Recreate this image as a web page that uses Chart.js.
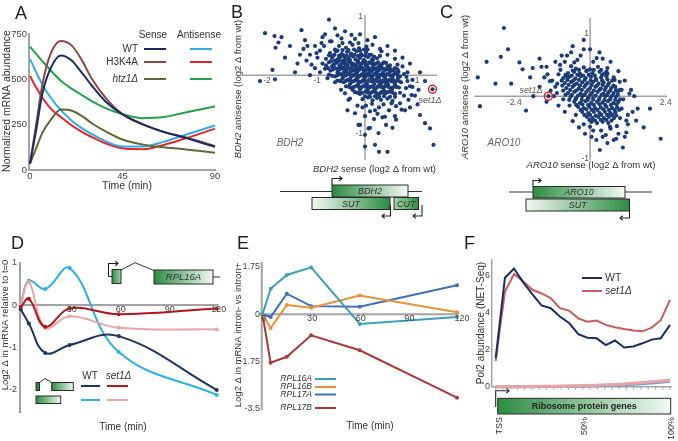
<!DOCTYPE html>
<html>
<head>
<meta charset="utf-8">
<script src="https://cdn.jsdelivr.net/npm/chart.js@4"></script>
<style>
  body { margin: 0; background: #fff; }
  #wrap { position: relative; width: 678px; height: 441px; }
  canvas { position: absolute; left: 0; top: 0; }
</style>
</head>
<body>
<div id="wrap">
  <canvas id="cA" width="678" height="441"></canvas>
  <canvas id="cB" width="678" height="441"></canvas>
  <canvas id="cC" width="678" height="441"></canvas>
  <canvas id="cD" width="678" height="441"></canvas>
  <canvas id="cE" width="678" height="441"></canvas>
  <canvas id="cF" width="678" height="441"></canvas>
</div>
<script>
// ---- data ----
// A: mRNA abundance after induction
const aTimes = [0, 3, 6, 10, 15, 20, 25, 30, 37, 45, 55, 65, 75, 90];
const aWTSense = [35, 220, 420, 560, 632, 607, 540, 466, 375, 307, 252, 210, 179, 128];
const aH3K4ASense = [35, 250, 470, 640, 712, 690, 610, 505, 395, 308, 250, 210, 182, 132];
const aHtz1Sense = [35, 120, 205, 275, 333, 328, 300, 258, 212, 168, 140, 125, 115, 95];
const aWTAnti = [612, 540, 470, 400, 330, 275, 232, 198, 158, 130, 130, 155, 192, 245];
const aH3K4AAnti = [518, 455, 400, 340, 292, 248, 212, 182, 146, 120, 115, 138, 172, 228];
const aHtz1Anti = [680, 640, 600, 550, 492, 450, 415, 380, 340, 308, 286, 292, 316, 350];
const aXTicks = [0, 45, 90];
const aYTicks = [0, 250, 500, 750];

// B: BDH2 sense vs antisense (log2 change from wt), one point per mutant
const bSet1 = [1.35, -0.24];
const bPoints = [
  [-2.0,0.72],[-1.81,0.67],[-1.67,0.65],[-1.73,0.56],[-1.79,0.47],[-1.27,0.77],[-0.72,0.95],[-1.85,0.09],
  [-2.1,-0.1],[-1.8,-0.07],[-1.23,0.45],[-1.17,0.25],[-1.07,0.18],[-0.87,0.55],[-0.97,0.38],[-0.67,0.58],
  [-0.47,0.63],[-0.27,0.69],[-0.13,0.55],[0.03,0.49],[0.33,0.41],[0.67,0.06],[0.83,-0.03],[0.9,-0.19],
  [1.07,-0.25],[1.35,-0.24],[1.2,-0.82],[1.3,-0.91],[1.37,-1.19],[1.1,-0.68],[0.73,-0.59],[0.53,-0.48],
  [0.27,-0.99],[0.2,-1.19],[0.28,-1.31],[0.45,-1.31],[0.0,-1.22],[-0.13,-0.85],[0.07,-0.91],[0.0,-1.02],
  [-0.2,-0.65],[-0.33,-0.42],[-0.4,-0.31],[0.4,-0.71],[0.87,-0.42],[0.93,-0.34],[0.6,-0.37],
  [-0.95,0.3],[-1.0,0.12],[-0.9,0.42],[-0.82,0.5],[-0.7,0.58],[-0.55,0.68],[-0.2,0.62],[0.15,0.52],
  [0.3,0.45],[0.45,0.35],[0.6,0.28],[0.75,0.15],[0.85,0.05],[0.95,-0.08],[0.82,-0.22],[0.78,-0.35],
  [0.7,-0.48],[-0.6,-0.12],[-0.48,-0.25],[-0.3,-0.4],[-0.15,-0.52],[-0.35,-0.6],[0.0,-0.7],[-0.1,-0.85],
  [0.1,-0.9],[0.55,-0.9],[0.9,-0.55],[1.0,-0.35],[-1.2,0.6],[-1.1,0.35],[-1.35,0.2],[-1.5,0.5],
  [-1.3,0.35],[-1.0,0.5],[-0.85,0.65],[-0.6,0.8],[-0.4,0.75],[-0.1,0.7],[0.2,0.65],[0.45,0.5],
  [0.6,0.42],[0.75,0.3],[0.9,0.2],[1.1,0.05],[1.2,-0.1],[0.95,-0.2],[1.05,-0.5],[0.8,-0.6],
  [0.6,-0.7],[0.42,-0.85],[0.2,-0.6],[-0.05,-0.55],[-0.25,-0.25],[-0.5,-0.1],[-0.75,-0.05],[-0.9,0.05],
  [-1.1,0.0],[-1.4,0.05],[-1.6,0.3],[-0.8,0.7],[0.05,0.6],[-1.15,0.5],[0.7,-0.3],[0.85,-0.1],[0.65,0.18],
  [-0.52,0.5],[-0.38,0.47],[-0.25,0.52],[-0.12,0.46],[-0.6,0.44],[-0.3,0.56],[0.05,0.44],[-0.45,0.55],
  [-0.55,0.42],[-0.45,0.43],[-0.33,0.43],[-0.22,0.44],[-0.1,0.42],[-0.02,0.44],
  [-0.7,0.38],[-0.58,0.41],[-0.47,0.36],[-0.36,0.4],[-0.28,0.37],[-0.17,0.41],[-0.08,0.36],[0.02,0.39],
  [0.12,0.35],[-0.64,0.33],[-0.41,0.31],
  [-0.72,0.34],[-0.61,0.35],[-0.52,0.33],[-0.44,0.35],[-0.37,0.33],[-0.29,0.34],[-0.21,0.35],[-0.14,0.33],
  [-0.06,0.34],[0.01,0.33],[0.09,0.35],[0.18,0.32],
  [-0.78,0.28],[-0.66,0.3],[-0.55,0.27],[-0.49,0.31],[-0.4,0.26],[-0.33,0.29],[-0.24,0.32],[-0.19,0.27],
  [-0.1,0.3],[-0.03,0.26],[0.06,0.31],[0.14,0.27],[0.24,0.29],[0.3,0.33],
  [-0.6,0.25],[-0.45,0.24],[-0.3,0.26],[-0.14,0.25],[0.0,0.24],[0.16,0.26],[-0.52,0.25],
  [-0.85,0.2],[-0.72,0.22],[-0.63,0.18],[-0.56,0.22],[-0.47,0.19],[-0.42,0.23],[-0.35,0.17],[-0.29,0.21],
  [-0.22,0.18],[-0.15,0.22],[-0.08,0.19],[-0.02,0.23],[0.04,0.17],[0.11,0.21],[0.18,0.18],[0.26,0.22],
  [0.34,0.19],[0.42,0.21],[0.5,0.17],
  [-0.78,0.17],[-0.68,0.24],[-0.6,0.2],[-0.51,0.17],[-0.44,0.21],[-0.38,0.2],[-0.32,0.24],[-0.25,0.2],
  [-0.18,0.16],[-0.11,0.2],[-0.05,0.21],[0.01,0.19],[0.08,0.22],[0.15,0.2],[0.22,0.2],[0.3,0.17],[0.38,0.22],
  [-0.66,0.15],[-0.5,0.14],[-0.39,0.16],[-0.26,0.15],[-0.11,0.14],[0.02,0.16],[0.15,0.14],[0.29,0.16],[0.45,0.15],
  [-0.8,0.11],[-0.69,0.08],[-0.6,0.12],[-0.52,0.09],[-0.45,0.13],[-0.38,0.07],[-0.31,0.11],[-0.25,0.08],
  [-0.18,0.12],[-0.12,0.09],[-0.06,0.13],[0.0,0.08],[0.07,0.12],[0.13,0.07],[0.2,0.11],[0.27,0.08],
  [0.33,0.13],[0.4,0.09],[0.48,0.12],[0.56,0.08],[0.65,0.1],
  [-0.74,0.12],[-0.64,0.1],[-0.56,0.11],[-0.48,0.11],[-0.41,0.1],[-0.34,0.12],[-0.28,0.1],[-0.21,0.09],
  [-0.15,0.1],[-0.09,0.11],[-0.03,0.1],[0.04,0.1],[0.1,0.09],[0.17,0.1],[0.24,0.12],[0.3,0.1],[0.37,0.11],
  [0.44,0.1],[0.52,0.1],[0.6,0.12],
  [-0.55,0.05],[-0.43,0.04],[-0.29,0.06],[-0.16,0.05],[-0.03,0.04],[0.1,0.06],[0.23,0.05],[0.36,0.04],[0.5,0.06],[0.63,0.05],
  [-0.72,0.01],[-0.6,-0.02],[-0.5,0.02],[-0.41,-0.01],[-0.34,0.03],[-0.27,-0.02],[-0.2,0.02],[-0.13,-0.03],
  [-0.07,0.01],[0.01,-0.02],[0.06,0.03],[0.12,-0.01],[0.19,0.02],[0.25,-0.03],[0.31,0.01],[0.38,-0.02],
  [0.44,0.02],[0.52,-0.01],[0.6,0.03],[0.7,-0.02],[0.78,0.02],
  [-0.66,-0.01],[-0.55,0.0],[-0.46,0.01],[-0.38,0.0],[-0.3,0.01],[-0.23,0.0],[-0.16,0.01],[-0.1,-0.01],
  [-0.04,0.0],[0.03,0.01],[0.09,0.0],[0.16,0.0],[0.22,0.01],[0.28,0.0],[0.35,0.01],[0.41,0.0],[0.48,0.01],
  [0.56,0.0],[0.65,0.01],
  [-0.45,-0.05],[-0.3,-0.06],[-0.16,-0.04],[-0.02,-0.06],[0.14,-0.05],[0.28,-0.04],[0.41,-0.06],[0.55,-0.05],[0.66,-0.04],
  [-0.55,-0.09],[-0.43,-0.12],[-0.35,-0.08],[-0.26,-0.11],[-0.18,-0.07],[-0.11,-0.12],[-0.04,-0.09],[0.03,-0.13],
  [0.09,-0.08],[0.16,-0.11],[0.22,-0.07],[0.29,-0.12],[0.35,-0.09],[0.42,-0.13],[0.49,-0.08],[0.56,-0.11],
  [0.64,-0.09],[0.72,-0.12],
  [-0.49,-0.1],[-0.39,-0.1],[-0.3,-0.09],[-0.22,-0.1],[-0.14,-0.1],[-0.07,-0.11],[0.0,-0.1],[0.06,-0.1],
  [0.12,-0.1],[0.19,-0.09],[0.25,-0.1],[0.32,-0.1],[0.38,-0.11],[0.45,-0.1],[0.52,-0.1],[0.6,-0.1],[0.68,-0.1],
  [-0.3,-0.15],[-0.13,-0.14],[0.04,-0.16],[0.19,-0.15],[0.32,-0.14],[0.46,-0.16],[0.6,-0.15],
  [-0.38,-0.19],[-0.27,-0.22],[-0.17,-0.18],[-0.08,-0.21],[0.0,-0.17],[0.07,-0.22],[0.14,-0.19],[0.21,-0.23],
  [0.28,-0.18],[0.36,-0.21],[0.43,-0.17],[0.51,-0.22],[0.59,-0.19],[0.68,-0.21],
  [-0.32,-0.2],[-0.22,-0.2],[-0.12,-0.2],[-0.04,-0.19],[0.03,-0.2],[0.1,-0.2],[0.17,-0.21],[0.25,-0.2],
  [0.32,-0.2],[0.4,-0.19],[0.47,-0.2],[0.55,-0.21],[0.63,-0.2],
  [-0.1,-0.25],[0.05,-0.26],[0.2,-0.24],[0.38,-0.26],[0.54,-0.25],
  [-0.2,-0.29],[-0.1,-0.32],[0.02,-0.28],[0.1,-0.31],[0.18,-0.27],[0.26,-0.33],[0.33,-0.29],[0.41,-0.31],
  [0.5,-0.28],[0.6,-0.32],
  [-0.15,-0.3],[-0.05,-0.3],[0.06,-0.3],[0.14,-0.29],[0.22,-0.3],[0.3,-0.31],[0.37,-0.3],[0.45,-0.29],[0.55,-0.3],
  [0.0,-0.36],[0.1,-0.37],[0.2,-0.36],[0.28,-0.37],[0.38,-0.36],[0.5,-0.37],
  [-0.05,-0.41],[0.06,-0.38],[0.15,-0.43],[0.24,-0.39],[0.32,-0.42],[0.45,-0.4],[0.55,-0.44],
  [0.02,-0.52],[0.14,-0.49],[0.28,-0.55],[0.37,-0.5],[0.62,-0.53],
  [0.1,-0.62],[0.25,-0.66],[0.48,-0.6],[0.18,-0.75],[0.35,-0.72],[0.62,-0.76]
];
const bXTicks = [-2, -1, 0, 1];
const bYTicks = [1, -1];

// C: ARO10 sense vs antisense
const cSet1 = [-1.32, 0.0];
const cPoints = [
  [-2.73,1.09],[-2.83,0.63],[-3.28,0.55],[-3.56,0.3],[-3.49,-0.16],[-2.24,0.54],[-2.14,0.43],[-1.82,0.45],
  [-2.03,-0.23],[-1.54,0.47],[-1.38,0.47],[-1.35,0.35],[-1.27,0.24],[-1.25,0.09],[-1.38,-0.09],[-1.32,0.0],
  [-0.73,0.65],[-0.5,0.54],[-0.94,0.42],[-0.73,0.31],[-1.04,0.2],[-0.16,-0.6],[0.31,-0.86],[0.83,-0.68],
  [1.04,-0.82],[1.15,-0.58],[1.51,-0.2],[1.46,-0.39],[2.24,-0.68],[0.94,0.23],[1.25,0.04],[0.78,0.26],
  [0.52,0.39],[0.21,0.61],[0.83,-0.31],[1.15,-0.39],[0.63,-0.49],[0.0,-0.49],
  [-1.0,0.35],[-1.1,0.15],[-0.95,0.5],[-0.8,0.55],[-0.4,0.58],[0.1,0.55],[0.55,0.45],[0.75,0.3],
  [1.0,0.1],[1.05,-0.05],[1.0,-0.2],[0.95,-0.35],[0.85,-0.48],[0.65,-0.52],[0.35,-0.55],[0.1,-0.55],
  [-0.2,-0.45],[-0.45,-0.3],[-0.65,-0.15],[-0.85,-0.05],[-1.15,0.0],[-1.2,0.25],[0.5,-0.62],[0.75,-0.7],
  [0.2,-0.7],[1.2,-0.45],[1.3,0.1],[-0.6,0.7],[0.3,0.7],[-0.2,0.75],
  [-1.6,0.6],[-1.9,0.3],[-1.6,0.15],[-1.45,0.3],[-1.1,0.55],[-0.9,0.65],[-0.55,0.8],[-0.3,0.65],
  [0.4,0.6],[0.65,0.55],[0.9,0.4],[1.1,0.25],[1.4,0.0],[1.35,-0.25],[1.2,-0.3],[1.1,-0.65],
  [0.9,-0.6],[0.55,-0.75],[0.4,-0.65],[0.05,-0.65],[-0.35,-0.5],[-0.55,-0.4],[-0.8,-0.25],[-1.0,-0.15],
  [-1.05,0.05],[-0.2,0.9],[0.0,0.75],[1.7,-0.5],[1.9,-0.2],[-2.5,0.2],[-1.8,0.0],[-2.6,0.75],[-3.0,0.2],
  [-0.45,0.44],[-0.2,0.46],[0.0,0.43],[0.25,0.47],[-0.6,0.48],
  [-0.55,0.41],[-0.35,0.42],[-0.1,0.41],[0.12,0.42],[0.35,0.42],
  [-0.7,0.37],[-0.5,0.39],[-0.32,0.36],[-0.12,0.4],[0.08,0.37],[0.3,0.39],[0.45,0.36],
  [-0.78,0.34],[-0.58,0.33],[-0.4,0.34],[-0.22,0.33],[-0.04,0.34],[0.15,0.33],[0.38,0.34],[0.55,0.36],
  [-0.85,0.29],[-0.66,0.31],[-0.47,0.28],[-0.3,0.32],[-0.14,0.29],[0.03,0.31],[0.18,0.28],[0.35,0.3],[0.52,0.32],
  [-0.9,0.25],[-0.72,0.26],[-0.53,0.25],[-0.35,0.26],[-0.17,0.26],[0.02,0.25],[0.2,0.26],[0.38,0.25],[0.55,0.27],[0.7,0.25],
  [-0.8,0.21],[-0.6,0.23],[-0.42,0.2],[-0.25,0.22],[-0.08,0.21],[0.1,0.23],[0.27,0.2],[0.43,0.22],[0.6,0.21],
  [-0.88,0.17],[-0.68,0.18],[-0.5,0.18],[-0.32,0.17],[-0.14,0.18],[0.05,0.18],[0.22,0.17],[0.4,0.18],[0.57,0.18],[0.74,0.17],
  [-0.75,0.13],[-0.55,0.15],[-0.36,0.12],[-0.18,0.15],[0.0,0.13],[0.17,0.15],[0.34,0.12],[0.5,0.14],[0.67,0.13],[0.8,0.15],
  [-0.85,0.09],[-0.63,0.1],[-0.44,0.09],[-0.26,0.1],[-0.06,0.1],[0.12,0.09],[0.3,0.1],[0.47,0.1],[0.64,0.09],[0.82,0.1],[0.95,0.1],
  [-0.7,0.05],[-0.5,0.07],[-0.3,0.04],[-0.12,0.07],[0.06,0.05],[0.24,0.07],[0.42,0.04],[0.58,0.06],[0.75,0.05],[0.88,0.07],
  [-0.78,0.02],[-0.58,0.02],[-0.38,0.01],[-0.18,0.02],[0.0,0.02],[0.18,0.01],[0.36,0.02],[0.54,0.02],[0.7,0.01],[0.88,0.02],
  [-0.62,-0.01],[-0.44,-0.03],[-0.25,0.0],[-0.06,-0.02],[0.12,-0.01],[0.3,-0.03],[0.48,0.0],[0.65,-0.02],[0.82,-0.01],
  [-0.66,-0.06],[-0.46,-0.05],[-0.26,-0.06],[-0.08,-0.06],[0.1,-0.05],[0.28,-0.06],[0.46,-0.06],[0.64,-0.05],[0.8,-0.06],[0.95,-0.05],
  [-0.5,-0.09],[-0.32,-0.11],[-0.14,-0.08],[0.04,-0.11],[0.22,-0.09],[0.4,-0.1],[0.57,-0.08],[0.74,-0.11],[0.9,-0.09],
  [-0.44,-0.14],[-0.24,-0.13],[-0.06,-0.14],[0.12,-0.14],[0.3,-0.13],[0.48,-0.14],[0.66,-0.14],[0.84,-0.13],
  [-0.38,-0.17],[-0.2,-0.19],[-0.02,-0.17],[0.16,-0.19],[0.34,-0.18],[0.52,-0.17],[0.7,-0.19],[0.86,-0.18],
  [-0.3,-0.22],[-0.12,-0.21],[0.06,-0.22],[0.24,-0.22],[0.42,-0.21],[0.6,-0.22],[0.78,-0.22],[0.92,-0.22],
  [-0.25,-0.25],[-0.06,-0.27],[0.12,-0.25],[0.3,-0.27],[0.47,-0.25],[0.64,-0.27],[0.8,-0.26],
  [-0.18,-0.3],[0.0,-0.3],[0.18,-0.31],[0.36,-0.3],[0.54,-0.3],[0.7,-0.3],
  [-0.1,-0.33],[0.08,-0.35],[0.26,-0.33],[0.44,-0.35],[0.6,-0.33],[0.76,-0.35],
  [-0.02,-0.38],[0.16,-0.39],[0.34,-0.38],[0.52,-0.38],[0.68,-0.39],
  [0.05,-0.41],[0.22,-0.43],[0.4,-0.41],[0.58,-0.43]
];
const cXTicks = [-2.4, 2.4];
const cYTicks = [1, -1];

// D: RPL16A mRNA relative to t=0
const dTimes = [0, 5, 15, 30, 60, 120];
const dWTSense = [-0.1, -0.44, -1.14, -0.95, -0.74, -2.02];
const dWTAnti = [0, 0.58, 0.38, 0.88, -1.12, -2.14];
const dSet1Sense = [-0.05, 0.15, -0.52, -0.08, -0.22, -0.08];
const dSet1Anti = [0.02, 0.55, -0.54, -0.27, -0.54, -0.58];
const dXTicks = [30, 60, 90, 120];
const dYTicks = [1, 0, -1, -2];

// E: intron- vs intron+ mRNA
const eTimes = [0, 5, 15, 30, 60, 120];
const eRPL16A = [0, 0.94, 1.45, 1.73, -0.36, -0.1];
const eRPL16B = [0, -0.51, 0.34, 0.24, 0.69, 0.07];
const eRPL17A = [0, -0.1, 0.76, 0.3, 0.28, 1.07];
const eRPL17B = [0, -1.79, -1.57, -0.78, -1.33, -3.08];
const eXTicks = [0, 30, 60, 90, 120];
const eYTicks = [1.75, 0, -1.75, -3.5];

// F: Pol2 NET-seq over ribosome protein genes (% of gene length)
const fPos = [0, 5.3, 10.5, 15.8, 21.1, 26.3, 31.6, 36.8, 42.1, 47.4, 52.6, 57.9, 63.2, 68.4, 73.7, 78.9, 84.2, 89.5, 94.7, 100];
const fWT = [1.55, 5.9, 6.4, 5.65, 5.0, 4.4, 4.25, 3.8, 3.45, 2.85, 2.65, 2.62, 2.25, 2.5, 2.12, 2.18, 2.35, 2.55, 2.62, 3.35];
const fSet1 = [1.4, 5.15, 6.1, 5.7, 5.25, 5.05, 4.8, 4.25, 4.12, 3.7, 3.52, 3.58, 3.35, 3.22, 3.12, 3.05, 3.0, 3.2, 3.6, 4.7];
const fWTAnti = [0, 0, 0, 0, 0, 0.01, 0.01, 0.02, 0.02, 0.03, 0.04, 0.05, 0.06, 0.08, 0.1, 0.13, 0.16, 0.2, 0.24, 0.3];
const fSet1Anti = [0, 0, 0, 0.01, 0.01, 0.02, 0.02, 0.03, 0.04, 0.05, 0.06, 0.08, 0.1, 0.12, 0.15, 0.19, 0.23, 0.27, 0.31, 0.35];
const fYTicks = [0, 2, 4, 6];
const fXLabels = [['TSS', 0], ['50%', 50], ['100%', 100]];

// ---- drawing helpers ----
const W = 678, H = 441;
const FONT = '"Liberation Sans", Arial, Helvetica, sans-serif';
const AXIS = '#a3a3a3';
const NAVY = '#1b2c5e';

function txt(ctx, s, x, y, o) {
  o = o || {};
  ctx.save();
  ctx.translate(x, y);
  if (o.rot) ctx.rotate(o.rot);
  const parts = Array.isArray(s) ? s : [[String(s), o.italic]];
  const fonts = parts.map(p => (p[1] ? 'italic ' : '') + (o.bold ? 'bold ' : '') + (o.size || 10) + 'px ' + FONT);
  let w = 0;
  parts.forEach((p, i) => { ctx.font = fonts[i]; w += ctx.measureText(p[0]).width; });
  let cx = o.align === 'right' ? -w : o.align === 'left' ? 0 : -w / 2;
  ctx.fillStyle = o.color || '#333';
  ctx.textBaseline = 'middle';
  ctx.textAlign = 'left';
  parts.forEach((p, i) => { ctx.font = fonts[i]; ctx.fillText(p[0], cx, 0); cx += ctx.measureText(p[0]).width; });
  ctx.restore();
}

function line(ctx, pts, color, w) {
  ctx.save();
  ctx.strokeStyle = color;
  ctx.lineWidth = w || 1;
  ctx.beginPath();
  pts.forEach((p, i) => i ? ctx.lineTo(p[0], p[1]) : ctx.moveTo(p[0], p[1]));
  ctx.stroke();
  ctx.restore();
}

function arrow(ctx, pts) {
  line(ctx, pts, '#222', 1.1);
  const a = pts[pts.length - 2], b = pts[pts.length - 1];
  const ang = Math.atan2(b[1] - a[1], b[0] - a[0]);
  const L = 3.5;
  line(ctx, [[b[0] - L * Math.cos(ang - 0.7), b[1] - L * Math.sin(ang - 0.7)], b,
             [b[0] - L * Math.cos(ang + 0.7), b[1] - L * Math.sin(ang + 0.7)]], '#222', 1.1);
}

function gbox(ctx, x0, y0, x1, y1, c0, c1, label, o) {
  const g = ctx.createLinearGradient(x0, 0, x1, 0);
  g.addColorStop(0, c0);
  g.addColorStop(1, c1);
  ctx.save();
  ctx.fillStyle = g;
  ctx.fillRect(x0, y0, x1 - x0, y1 - y0);
  ctx.strokeStyle = '#2a2a2a';
  ctx.lineWidth = 1;
  ctx.strokeRect(x0, y0, x1 - x0, y1 - y0);
  ctx.restore();
  if (label) txt(ctx, label, (x0 + x1) / 2, (y0 + y1) / 2 + 0.5, Object.assign({ size: 9, italic: true, color: '#333' }, o));
}
const GD = '#2c8c42', GL = '#f3f9f3';

function series(xs, ys, color, extra) {
  return Object.assign({
    data: xs.map((x, i) => ({ x: x, y: ys[i] })),
    borderColor: color, backgroundColor: color,
    borderWidth: 2, pointRadius: 0, tension: 0, clip: false
  }, extra || {});
}

function makeChart(id, area, xr, yr, datasets, under, over) {
  return new Chart(document.getElementById(id), {
    type: 'line',
    data: { datasets: datasets },
    options: {
      responsive: false, animation: false, events: [],
      layout: { padding: { left: area[0], top: area[1], right: W - area[2], bottom: H - area[3] } },
      plugins: { legend: { display: false }, tooltip: { enabled: false } },
      scales: {
        x: { type: 'linear', display: false, min: xr[0], max: xr[1] },
        y: { type: 'linear', display: false, min: yr[0], max: yr[1] }
      }
    },
    plugins: [{
      id: 'deco',
      beforeDatasetsDraw(c) {
        if (under) under(c.ctx, v => c.scales.x.getPixelForValue(v), v => c.scales.y.getPixelForValue(v));
      },
      afterDraw(c) {
        if (over) over(c.ctx, v => c.scales.x.getPixelForValue(v), v => c.scales.y.getPixelForValue(v));
      }
    }]
  });
}

const UP = -Math.PI / 2;

// ---- A ----
makeChart('cA', [30, 34, 215, 170], [0, 90], [0, 750], [
  series(aTimes, aWTSense, NAVY, { cubicInterpolationMode: 'monotone' }),
  series(aTimes, aH3K4ASense, '#8c4747', { cubicInterpolationMode: 'monotone' }),
  series(aTimes, aHtz1Sense, '#5a6b33', { cubicInterpolationMode: 'monotone' }),
  series(aTimes, aWTAnti, '#2eaee4', { cubicInterpolationMode: 'monotone' }),
  series(aTimes, aH3K4AAnti, '#e3262b', { cubicInterpolationMode: 'monotone' }),
  series(aTimes, aHtz1Anti, '#21a24b', { cubicInterpolationMode: 'monotone' })
], (ctx, X, Y) => {
  line(ctx, [[X(0) - 1, 33], [X(0) - 1, Y(0)], [X(90) + 1, Y(0)]], AXIS, 2);
}, (ctx, X, Y) => {
  txt(ctx, 'A', 15, 14, { size: 18, align: 'left', color: '#222' });
  aYTicks.forEach(v => txt(ctx, v, X(0) - 3, Y(v), { align: 'right', size: 9.5, color: '#444' }));
  aXTicks.forEach(v => txt(ctx, v, X(v), Y(0) + 6, { size: 9.5, color: '#444' }));
  txt(ctx, 'Time (min)', 127, 186, { size: 10.5 });
  txt(ctx, 'Normalized mRNA abundance', 7, 101, { size: 10.5, rot: UP });
  txt(ctx, 'Sense', 153, 35, { size: 10 });
  txt(ctx, 'Antisense', 199, 35, { size: 10 });
  const rows = [['WT', 49, NAVY, '#2eaee4', false], ['H3K4A', 62, '#8c4747', '#e3262b', false], ['htz1Δ', 79, '#5a6b33', '#21a24b', true]];
  rows.forEach(r => {
    txt(ctx, r[0], 138, r[1], { size: 10, align: 'right', italic: r[4] });
    line(ctx, [[144, r[1]], [166, r[1]]], r[2], 2);
    line(ctx, [[190, r[1]], [212, r[1]]], r[3], 2);
  });
});

// ---- B ----
makeChart('cB', [243, 15, 437, 160], [-2.44, 1.44], [-1.45, 1.03], [
  { type: 'scatter', data: bPoints.map(p => ({ x: p[0], y: p[1] })), backgroundColor: '#1c3b7a', borderWidth: 0, pointRadius: 2.1, clip: false }
], (ctx, X, Y) => {
  line(ctx, [[X(-2.44), Y(0)], [X(1.44), Y(0)]], AXIS, 1.5);
  line(ctx, [[X(0), Y(1.03)], [X(0), Y(-1.45)]], AXIS, 1.5);
}, (ctx, X, Y) => {
  txt(ctx, 'B', 231, 13, { size: 18, align: 'left', color: '#222' });
  bXTicks.forEach(v => txt(ctx, v, X(v) + (v === 0 ? 3 : 2), Y(0) + 5, { size: 8.5, color: '#555' }));
  bYTicks.forEach(v => txt(ctx, v, X(0) - 2, Y(v), { size: 8.5, color: '#555', align: 'right' }));
  ctx.save();
  ctx.strokeStyle = '#e02020'; ctx.lineWidth = 1.5;
  ctx.beginPath(); ctx.arc(X(bSet1[0]), Y(bSet1[1]), 4, 0, 2 * Math.PI); ctx.stroke();
  ctx.restore();
  txt(ctx, 'set1Δ', 430, 100, { size: 9, italic: true, color: '#555' });
  txt(ctx, 'BDH2', 290, 143, { size: 10, italic: true, color: '#666' });
  txt(ctx, [['BDH2', true], [' antisense (log2 Δ from wt)', false]], 238, 89, { size: 9.5, rot: UP });
  txt(ctx, [['BDH2', true], [' sense (log2 Δ from wt)', false]], 374.5, 169.5, { size: 9.5 });
  // gene diagram
  line(ctx, [[280, 191.5], [422, 191.5]], '#333', 1);
  gbox(ctx, 332, 185, 408, 197, GD, GL, 'BDH2');
  gbox(ctx, 312, 197.5, 390, 209.5, GL, GD, 'SUT');
  gbox(ctx, 394, 197.5, 418.5, 209.5, '#a8d6ae', GD, 'CUT');
  arrow(ctx, [[332, 185], [332, 178.5], [342, 178.5]]);
  arrow(ctx, [[390.5, 205], [390.5, 216], [382, 216]]);
  arrow(ctx, [[422, 205], [422, 216], [413, 216]]);
});

// ---- C ----
makeChart('cC', [474, 18, 667, 160], [-3.68, 2.44], [-1.02, 1.25], [
  { type: 'scatter', data: cPoints.map(p => ({ x: p[0], y: p[1] })), backgroundColor: '#1c3b7a', borderWidth: 0, pointRadius: 2.1, clip: false }
], (ctx, X, Y) => {
  line(ctx, [[X(-3.68), Y(0)], [X(2.44), Y(0)]], AXIS, 1.5);
  line(ctx, [[X(0), Y(1.25)], [X(0), Y(-1.02)]], AXIS, 1.5);
}, (ctx, X, Y) => {
  txt(ctx, 'C', 440, 13, { size: 18, align: 'left', color: '#222' });
  cXTicks.forEach(v => txt(ctx, v, X(v), Y(0) + 6, { size: 8.5, color: '#555' }));
  cYTicks.forEach(v => txt(ctx, v, X(0) - 1, Y(v), { size: 8.5, color: '#555', align: 'right' }));
  txt(ctx, '0', X(0) - 2, Y(0) - 3, { size: 8.5, color: '#555' });
  txt(ctx, '0', X(0) + 3, Y(0) + 3, { size: 8.5, color: '#555' });
  ctx.save();
  ctx.strokeStyle = '#e02020'; ctx.lineWidth = 1.5;
  ctx.beginPath(); ctx.arc(X(cSet1[0]), Y(cSet1[1]), 4, 0, 2 * Math.PI); ctx.stroke();
  ctx.restore();
  txt(ctx, 'set1Δ', 531, 90, { size: 9, italic: true, color: '#555' });
  txt(ctx, 'ARO10', 504, 143, { size: 10, italic: true, color: '#666' });
  txt(ctx, [['ARO10', true], [' antisense (log2 Δ from wt)', false]], 465, 87, { size: 9.5, rot: UP });
  txt(ctx, [['ARO10', true], [' sense (log2 Δ from wt)', false]], 591, 165, { size: 9.5 });
  line(ctx, [[509, 192], [652, 192]], '#333', 1);
  gbox(ctx, 533, 186.5, 625, 198, GD, GL, 'ARO10');
  gbox(ctx, 526, 199, 629.5, 211, GL, GD, 'SUT');
  arrow(ctx, [[533, 186.5], [533, 180.5], [541, 180.5]]);
  arrow(ctx, [[629.5, 206], [629.5, 218], [620, 218]]);
});

// ---- D ----
const dOpt = () => ({ tension: 0.4, pointRadius: 2, pointBorderWidth: 0 });
makeChart('cD', [20.7, 263, 216.7, 413], [0, 120], [-2.57, 1.0], [
  series(dTimes, dSet1Sense, '#b5161b', dOpt()),
  series(dTimes, dSet1Anti, '#e8a6a6', dOpt()),
  series(dTimes, dWTSense, '#1f3560', dOpt()),
  series(dTimes, dWTAnti, '#2cb0e8', dOpt())
], (ctx, X, Y) => {
  line(ctx, [[20, 262], [20, 413]], AXIS, 2);
  line(ctx, [[20, Y(0)], [218.5, Y(0)]], AXIS, 2);
}, (ctx, X, Y) => {
  txt(ctx, 'D', 11, 244, { size: 18, align: 'left', color: '#222' });
  dYTicks.forEach(v => txt(ctx, v, 17, Y(v), { size: 9, color: '#444', align: 'right' }));
  dXTicks.forEach(v => txt(ctx, v, X(v) + 2, Y(0) + 4, { size: 9, color: '#444' }));
  txt(ctx, 'Time (min)', 123, 427, { size: 10 });
  txt(ctx, 'Log2 Δ in mRNA relative to t=0', 5.5, 325, { size: 9.5, rot: UP });
  // gene diagram
  line(ctx, [[108.5, 276.5], [112, 276.5]], '#333', 1);
  arrow(ctx, [[108.5, 276.5], [108.5, 263.5], [118, 263.5]]);
  gbox(ctx, 112, 269.5, 121, 283.5, GD, '#9fd0a6');
  line(ctx, [[121, 270], [135, 262.7], [154, 270.5]], '#333', 1);
  gbox(ctx, 154, 270, 213, 284, GD, GL, 'RPL16A', { size: 9.5 });
  line(ctx, [[213, 277], [220, 277]], '#333', 1);
  // legend
  txt(ctx, 'WT', 90, 376, { size: 10 });
  txt(ctx, 'set1Δ', 118.5, 376, { size: 10, italic: true });
  line(ctx, [[81, 386], [100, 386]], '#1f3560', 2);
  line(ctx, [[107, 386], [128, 386]], '#b5161b', 2);
  line(ctx, [[81, 400], [100, 400]], '#2cb0e8', 2);
  line(ctx, [[107, 400], [128, 400]], '#e8a6a6', 2);
  gbox(ctx, 36, 382.5, 39.5, 390.5, GD, GD);
  line(ctx, [[39.5, 382.5], [45, 378.5], [51.7, 382.5]], '#333', 1);
  gbox(ctx, 51.7, 382.5, 73.3, 390.5, GD, GL);
  gbox(ctx, 36, 396, 60.7, 403.5, GD, GL);
});

// ---- E ----
const eOpt = () => ({ pointRadius: 2, pointBorderWidth: 0 });
makeChart('cE', [262.5, 262, 457, 409], [0, 120], [-3.5, 1.93], [
  series(eTimes, eRPL16A, '#3aa0b5', eOpt()),
  series(eTimes, eRPL16B, '#e8913a', eOpt()),
  series(eTimes, eRPL17A, '#3f6fb5', eOpt()),
  series(eTimes, eRPL17B, '#a83a3a', eOpt())
], (ctx, X, Y) => {
  line(ctx, [[261.7, 262], [261.7, 410]], AXIS, 2);
  line(ctx, [[261.7, Y(0)], [459, Y(0)]], AXIS, 2);
}, (ctx, X, Y) => {
  txt(ctx, 'E', 237, 244, { size: 18, align: 'left', color: '#222' });
  eYTicks.forEach(v => txt(ctx, v, 260, Y(v), { size: 9, color: '#444', align: 'right' }));
  eXTicks.forEach(v => txt(ctx, v, X(v) + (v === 120 ? 5 : 1), Y(0) + 4, { size: 9, color: '#444' }));
  txt(ctx, 'Time (min)', 370, 426, { size: 10 });
  txt(ctx, 'Log2 Δ in mRNA intron- vs intron+', 238.5, 335, { size: 9.5, rot: UP });
  const leg = [['RPL16A', 379, '#3aa0b5'], ['RPL16B', 387, '#e8913a'], ['RPL17A', 394.5, '#3f6fb5'], ['RPL17B', 408, '#a83a3a']];
  leg.forEach(r => {
    txt(ctx, r[0], 312, r[1], { size: 8.5, italic: true, align: 'right' });
    line(ctx, [[315, r[1]], [336, r[1]]], r[2], 2);
  });
});

// ---- F ----
makeChart('cF', [495.7, 259.3, 670, 386.7], [0, 100], [0, 6.9], [
  series(fPos, fSet1Anti, '#e9a3a3', { borderWidth: 3 }),
  series(fPos, fWTAnti, '#6f9fdc', { borderWidth: 3 }),
  series(fPos, fWT, NAVY),
  series(fPos, fSet1, '#c95c5c')
], (ctx, X, Y) => {
  line(ctx, [[491.7, 259], [491.7, Y(0)], [672, Y(0)]], AXIS, 1.5);
  for (let i = 0; i <= 24; i++) line(ctx, [[X(i * 100 / 24), Y(0)], [X(i * 100 / 24), Y(0) + 3]], AXIS, 1);
}, (ctx, X, Y) => {
  txt(ctx, 'F', 464, 244, { size: 18, align: 'left', color: '#222' });
  fYTicks.forEach(v => txt(ctx, v, 490, Y(v), { size: 9, color: '#444', align: 'right' }));
  fXLabels.forEach(l => txt(ctx, l[0], X(l[1]) + (l[1] === 0 ? 4 : 2), 417, { size: 9, color: '#333', align: 'right', rot: UP }));
  txt(ctx, 'Pol2 abundance (NET-Seq)', 481, 323, { size: 10, rot: UP });
  line(ctx, [[582, 278], [602, 278]], NAVY, 2);
  line(ctx, [[582, 291], [602, 291]], '#c95c5c', 2);
  txt(ctx, 'WT', 605, 278, { size: 10.5, align: 'left' });
  txt(ctx, 'set1Δ', 605, 291, { size: 10.5, align: 'left', italic: true });
  gbox(ctx, 497.7, 398.3, 670.7, 414, GD, GL, 'Ribosome protein genes', { italic: false, bold: true, size: 9, color: '#222' });
  arrow(ctx, [[495.7, 407], [495.7, 390.7], [509, 390.7]]);
});
</script>
</body>
</html>
